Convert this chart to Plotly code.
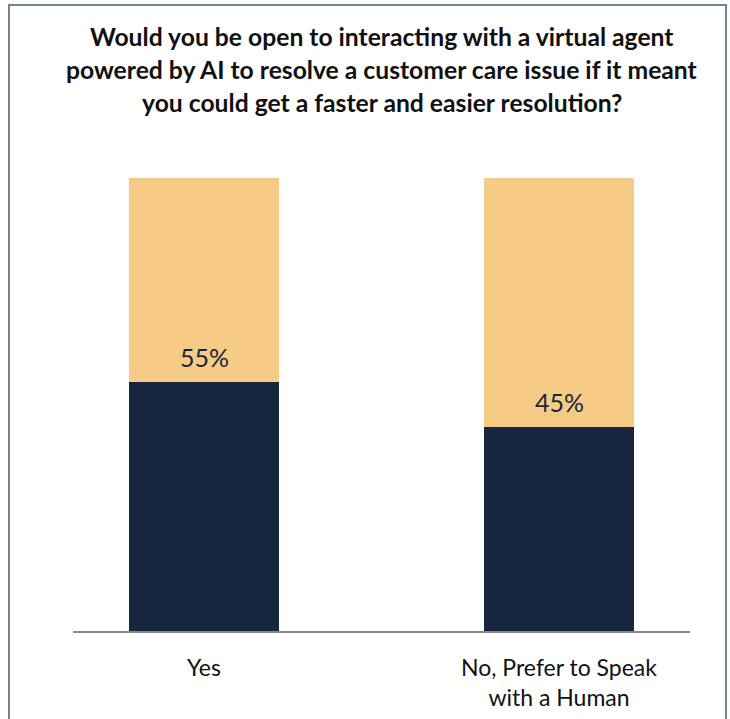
import plotly.graph_objects as go

categories = ["Yes", "No, Prefer to Speak<br>with a Human"]
values = [55, 45]
remainder = [100 - v for v in values]
labels = ["55%", "45%"]
title_lines = [
    "Would you be open to interacting with a virtual agent",
    "powered by AI to resolve a customer care issue if it meant",
    "you could get a faster and easier resolution?",
]

NAVY = "#16263f"
PEACH = "#f6cb86"
FONT = "Lato"

fig = go.Figure()
fig.add_trace(go.Bar(x=categories, y=values, marker=dict(color=NAVY, line=dict(width=0)),
                     width=0.4225, hoverinfo="skip"))
fig.add_trace(go.Bar(x=categories, y=remainder, marker=dict(color=PEACH, line=dict(width=0)),
                     width=0.4225, hoverinfo="skip"))

for c, v, t in zip(categories, values, labels):
    fig.add_annotation(x=c, y=v, text=t, showarrow=False, yanchor="bottom", yshift=8,
                       font=dict(family=FONT, size=25, color=NAVY))

for i, line in enumerate(title_lines):
    fig.add_annotation(xref="paper", yref="paper", x=0.5, y=1, yanchor="middle",
                       xanchor="center", yshift=178 - 36 - i * 33,
                       text="<b>" + line + "</b>", showarrow=False,
                       font=dict(family=FONT, size=24.7, color="#111111"))

# outer border
L, R, T, B = 73, 40, 178, 88
W, H = 730, 719
pw, ph = W - L - R, H - T - B
fig.add_shape(type="rect", xref="paper", yref="paper",
              x0=(9 - L) / pw, x1=(726 - L) / pw, y0=-0.5, y1=(H - 5 - B) / ph,
              line=dict(color="#6e8597", width=2), fillcolor="rgba(0,0,0,0)", layer="below")

fig.update_layout(
    barmode="stack",
    width=W, height=H,
    margin=dict(l=L, r=R, t=T, b=B, autoexpand=False),
    paper_bgcolor="white", plot_bgcolor="white",
    showlegend=False,
    bargap=0,
    font=dict(family=FONT, color="#111111"),
    xaxis=dict(range=[-0.369, 1.369], showline=True, linecolor="#888888", linewidth=1.5,
               ticks="", tickfont=dict(family=FONT, size=23, color="#111111"),
               showgrid=False, zeroline=False, automargin=False),
    yaxis=dict(range=[0, 100], visible=False, showgrid=False, zeroline=False, automargin=False),
)
fig.update_xaxes(ticklabelstandoff=16)

fig.write_html("out.html")
